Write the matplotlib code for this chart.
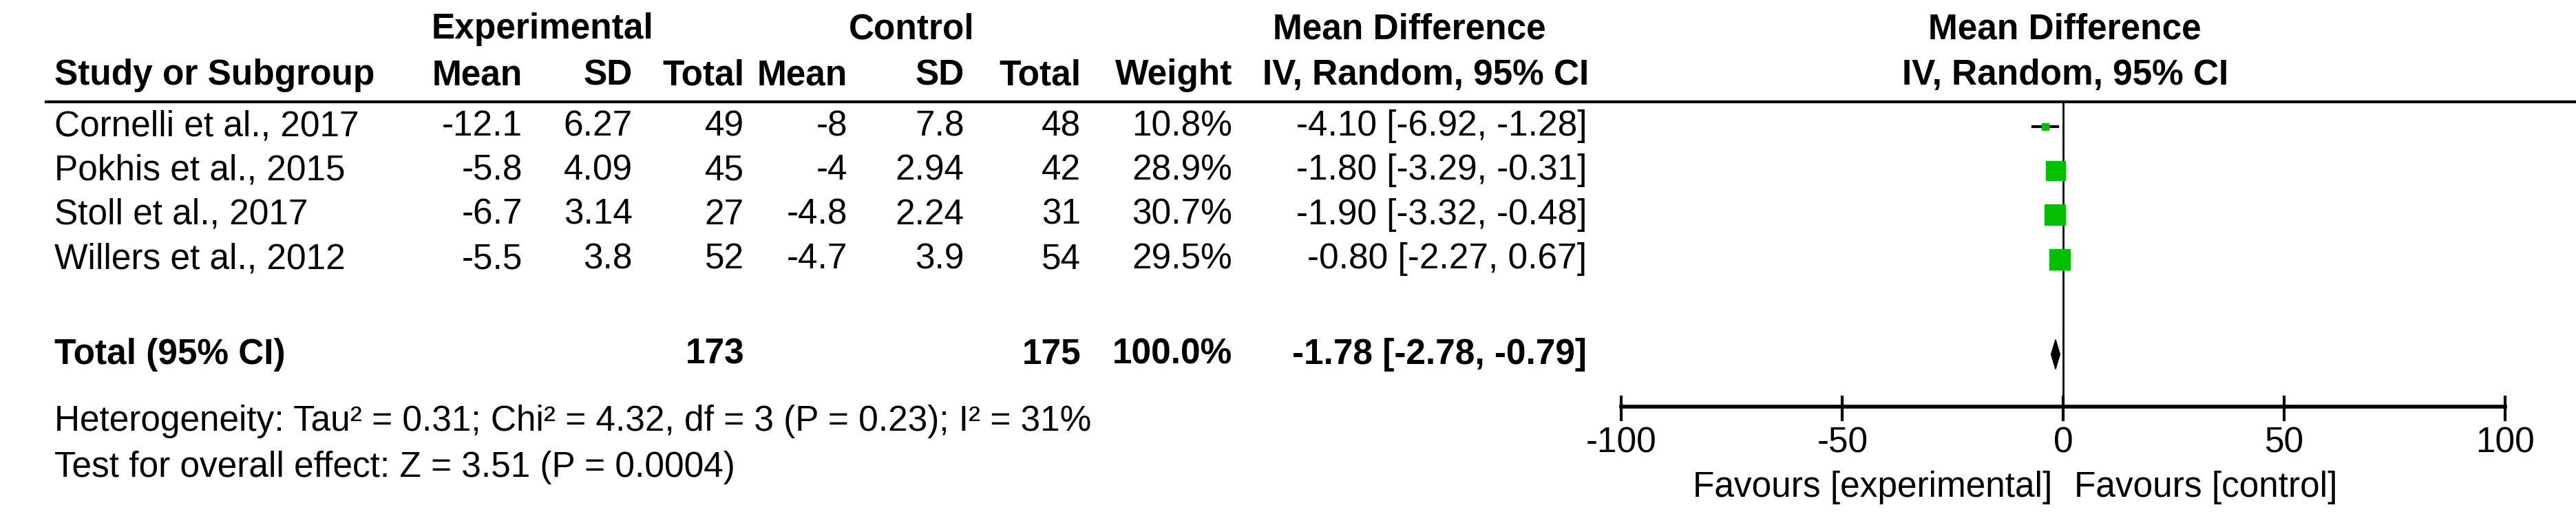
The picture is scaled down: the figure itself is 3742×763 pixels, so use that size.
import matplotlib
matplotlib.use("Agg")
import matplotlib.pyplot as plt
from matplotlib.patches import Polygon

plt.rcParams['font.family'] = ['Liberation Sans', 'DejaVu Sans']

studies = ["Cornelli et al., 2017", "Pokhis et al., 2015", "Stoll et al., 2017", "Willers et al., 2012"]
exp_mean = ["-12.1", "-5.8", "-6.7", "-5.5"]
exp_sd = ["6.27", "4.09", "3.14", "3.8"]
exp_n = [49, 45, 27, 52]
ctl_mean = ["-8", "-4", "-4.8", "-4.7"]
ctl_sd = ["7.8", "2.94", "2.24", "3.9"]
ctl_n = [48, 42, 31, 54]
weights = [10.8, 28.9, 30.7, 29.5]
md = [-4.10, -1.80, -1.90, -0.80]
lo = [-6.92, -3.29, -3.32, -2.27]
hi = [-1.28, -0.31, -0.48, 0.67]
tot_exp, tot_ctl, tot_weight = 173, 175, 100.0
tot_md, tot_lo, tot_hi = -1.78, -2.78, -0.79
ticks = [-100, -50, 0, 50, 100]

W, H = 1568.0, 320.0
fig = plt.figure(figsize=(37.42, 7.63), dpi=100)
FS = 37
GREEN = '#00C000'

def T(x, y, s, ha='left', bold=False):
    fig.text(x / W, 1 - y / H, s, ha=ha, va='center', fontsize=FS,
             fontweight='bold' if bold else 'normal', color='black')

T(330, 18, "Experimental", 'center', True)
T(555, 18, "Control", 'center', True)
T(858, 18, "Mean Difference", 'center', True)
T(1257, 18, "Mean Difference", 'center', True)
T(33, 46, "Study or Subgroup", 'left', True)
for x, s in [(318, "Mean"), (385, "SD"), (453, "Total"), (516, "Mean"),
             (587, "SD"), (658, "Total"), (750, "Weight")]:
    T(x, 46, s, 'right', True)
T(868, 46, "IV, Random, 95% CI", 'center', True)
T(1257, 46, "IV, Random, 95% CI", 'center', True)
fig.add_artist(plt.Line2D([28 / W, 1], [1 - 62 / H] * 2, color='black', lw=3))

rows_y = [77, 104, 131, 158]
for i, y in enumerate(rows_y):
    T(33, y, studies[i])
    T(318, y, exp_mean[i], 'right')
    T(385, y, exp_sd[i], 'right')
    T(453, y, str(exp_n[i]), 'right')
    T(516, y, ctl_mean[i], 'right')
    T(587, y, ctl_sd[i], 'right')
    T(658, y, str(ctl_n[i]), 'right')
    T(750, y, f"{weights[i]:.1f}%", 'right')
    T(966, y, f"{md[i]:.2f} [{lo[i]:.2f}, {hi[i]:.2f}]", 'right')

ty = 216
T(33, ty, "Total (95% CI)", bold=True)
T(453, ty, str(tot_exp), 'right', True)
T(658, ty, str(tot_ctl), 'right', True)
T(750, ty, f"{tot_weight:.1f}%", 'right', True)
T(966, ty, f"{tot_md:.2f} [{tot_lo:.2f}, {tot_hi:.2f}]", 'right', True)
T(33, 257, "Heterogeneity: Tau² = 0.31; Chi² = 4.32, df = 3 (P = 0.23); I² = 31%")
T(33, 285, "Test for overall effect: Z = 3.51 (P = 0.0004)")

x0, x1 = 987, 1525
ytop, ybot = 62, 248
ax = fig.add_axes([x0 / W, 1 - ybot / H, (x1 - x0) / W, (ybot - ytop) / H])
ax.set_xlim(-100, 100)
ax.set_ylim(ybot, ytop)
ax.axis('off')
ax.axvline(0, color='black', lw=2)
wmax = max(weights)
for i, y in enumerate(rows_y):
    ax.plot([lo[i], hi[i]], [y, y], color='black', lw=3, zorder=2)
    ax.plot(md[i], y, marker='s', color=GREEN, mec=GREEN,
            markersize=22 * weights[i] / wmax, zorder=3)
dh = 9
ax.add_patch(Polygon([[tot_lo, ty], [tot_md, ty - dh], [tot_hi, ty], [tot_md, ty + dh]],
                     closed=True, color='black', zorder=3))
ax.plot([-100, 100], [ybot, ybot], color='black', lw=4, clip_on=False)
for t in ticks:
    ax.plot([t, t], [ybot - 6, ybot + 8], color='black', lw=3, clip_on=False)
    ax.text(t, 270, str(t), ha='center', va='center', fontsize=FS)
ax.text(-2.5, 297, "Favours [experimental]", ha='right', va='center', fontsize=FS)
ax.text(2.5, 297, "Favours [control]", ha='left', va='center', fontsize=FS)

fig.savefig("out.png", dpi=100)
